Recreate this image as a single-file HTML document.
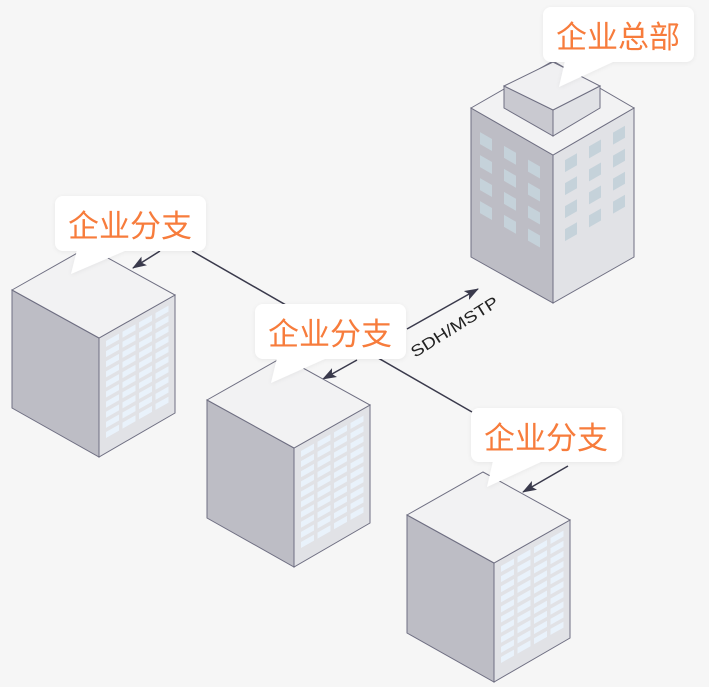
<!DOCTYPE html>
<html><head><meta charset="utf-8"><style>
html,body{margin:0;padding:0;background:#f6f6f6;}
svg{display:block;}
.t{font-family:"Liberation Sans","Noto Sans CJK SC",sans-serif;font-size:31px;fill:#f77c3c;}
</style></head><body>
<svg width="709" height="687" viewBox="0 0 709 687" xmlns="http://www.w3.org/2000/svg">
<defs>
<filter id="sh" x="-20%" y="-30%" width="140%" height="160%"><feDropShadow dx="0" dy="1" stdDeviation="2" flood-color="#000" flood-opacity="0.06"/></filter>
<marker id="ah" viewBox="0 0 14 10" refX="13" refY="5" markerWidth="9.5" markerHeight="7" orient="auto" markerUnits="strokeWidth"><path d="M0,0 L14,5 L0,10 L3,5 Z" fill="#3a3a4c"/></marker>
<g id="br">
<path d="M0,0 L87,48 L87,167 L0,118 Z" fill="#bdbdc5" stroke="#6f6f82" stroke-width="1"/>
<path d="M87,48 L163,5 L163,123 L87,167 Z" fill="#e1e2e6" stroke="#6f6f82" stroke-width="1"/>
<path d="M0,0 L76,-43 L163,5 L87,48 Z" fill="#f2f2f3" stroke="#6f6f82" stroke-width="1"/>
<g transform="matrix(1,-0.566,0,1,87,48)" fill="#e9f2fb">
<g id="row"><rect x="7" y="7" width="13" height="6"/><rect x="23.5" y="7" width="13" height="6"/><rect x="40" y="7" width="13" height="6"/><rect x="56.5" y="7" width="13" height="6"/></g>
<use href="#row" y="10.1"/><use href="#row" y="20.2"/><use href="#row" y="30.3"/><use href="#row" y="40.4"/><use href="#row" y="50.5"/><use href="#row" y="60.6"/><use href="#row" y="70.7"/><use href="#row" y="80.8"/><use href="#row" y="90.9"/>
</g>
</g>
</defs>

<line x1="192" y1="251" x2="472" y2="412" stroke="#3a3a4c" stroke-width="1.5"/>
<line x1="160" y1="251" x2="133" y2="268" stroke="#3a3a4c" stroke-width="1.5" marker-end="url(#ah)"/>
<line x1="357" y1="360" x2="323" y2="379" stroke="#3a3a4c" stroke-width="1.5" marker-end="url(#ah)"/>
<line x1="407" y1="329" x2="478" y2="289" stroke="#3a3a4c" stroke-width="1.5" marker-end="url(#ah)"/>
<line x1="568" y1="466" x2="523" y2="492" stroke="#3a3a4c" stroke-width="1.5" marker-end="url(#ah)"/>
<text x="415" y="358" transform="rotate(-32 415 358)" font-family="Liberation Sans,sans-serif" font-size="16" fill="#222" textLength="100" lengthAdjust="spacingAndGlyphs">SDH/MSTP</text>

<path d="M471,108 L553,155 L553,303 L471,257 Z" fill="#bdbdc5" stroke="#6f6f82"/>
<path d="M553,155 L634,108 L634,257 L553,303 Z" fill="#e1e2e6" stroke="#6f6f82"/>
<path d="M471,108 L553,61 L634,108 L553,155 Z" fill="#f2f2f3" stroke="#6f6f82"/>
<g transform="matrix(1,0.573,0,1,471,108)" fill="#c5d2da">
<rect x="9" y="19" width="12" height="12"/><rect x="9" y="42" width="12" height="12"/><rect x="9" y="65" width="12" height="12"/><rect x="9" y="88" width="12" height="12"/>
<rect x="33" y="19" width="12" height="12"/><rect x="33" y="42" width="12" height="12"/><rect x="33" y="65" width="12" height="12"/><rect x="33" y="88" width="12" height="12"/>
<rect x="57" y="19" width="12" height="12"/><rect x="57" y="42" width="12" height="12"/><rect x="57" y="65" width="12" height="12"/><rect x="57" y="88" width="12" height="12"/>
</g>
<g transform="matrix(1,-0.573,0,1,553,155)" fill="#c5d2da">
<rect x="12" y="12" width="12" height="12"/><rect x="12" y="35" width="12" height="12"/><rect x="12" y="58" width="12" height="12"/><rect x="12" y="81" width="12" height="12"/>
<rect x="36" y="12" width="12" height="12"/><rect x="36" y="35" width="12" height="12"/><rect x="36" y="58" width="12" height="12"/><rect x="36" y="81" width="12" height="12"/>
<rect x="60" y="12" width="12" height="12"/><rect x="60" y="35" width="12" height="12"/><rect x="60" y="58" width="12" height="12"/><rect x="60" y="81" width="12" height="12"/>
</g>
<path d="M504,86 L553,110 L553,136 L504,108 Z" fill="#c9c9d0" stroke="#6f6f82"/>
<path d="M553,110 L600,86 L600,108 L553,136 Z" fill="#e1e2e6" stroke="#6f6f82"/>
<path d="M504,86 L553,62 L600,86 L553,110 Z" fill="#f0f0f2" stroke="#6f6f82"/>

<use href="#br" x="12" y="290"/>
<use href="#br" x="207" y="400"/>
<use href="#br" x="407" y="515"/>

<g fill="#fff" filter="url(#sh)">
<rect x="55" y="196" width="151" height="55" rx="8"/><path d="M77,250 L71,274 L127,250 Z"/>
<rect x="255" y="304" width="151" height="55" rx="8"/><path d="M277,358 L271,383 L327,358 Z"/>
<rect x="471" y="408" width="151" height="54" rx="8"/><path d="M493,461 L487,487 L543,461 Z"/>
<rect x="543" y="7" width="151" height="55" rx="8"/><path d="M565,61 L559,87 L615,61 Z"/>
</g>
<text class="t" x="68" y="237">企业分支</text>
<text class="t" x="268" y="345">企业分支</text>
<text class="t" x="484" y="449">企业分支</text>
<text class="t" x="556" y="48">企业总部</text>
</svg>
</body></html>
